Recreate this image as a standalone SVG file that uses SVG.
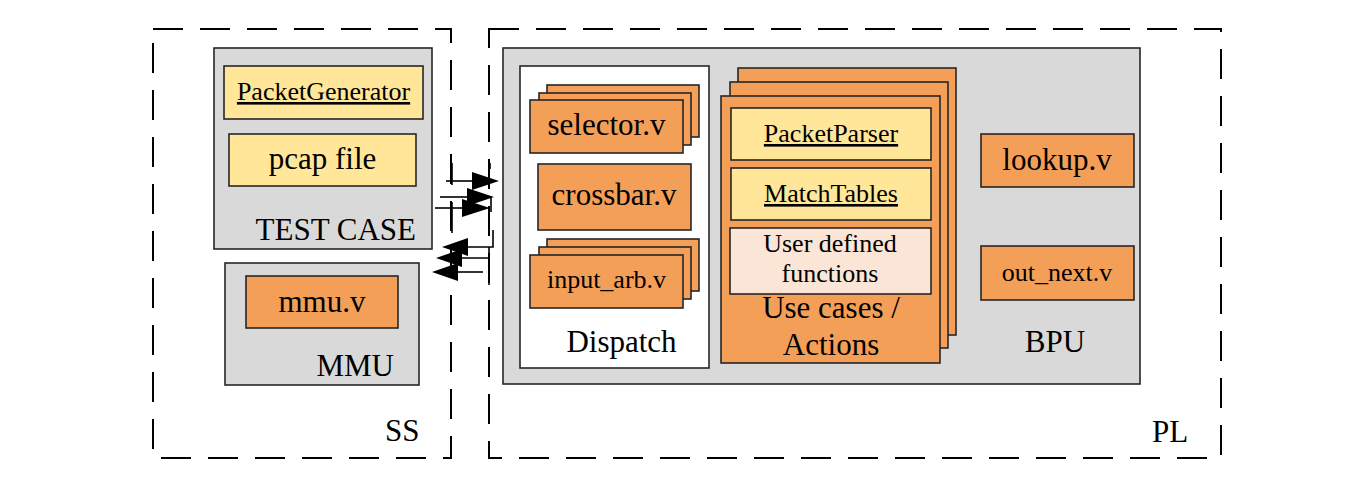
<svg xmlns="http://www.w3.org/2000/svg" width="1368" height="487" viewBox="0 0 1368 487">
<style>
text{font-family:"Liberation Serif","Times New Roman",serif;fill:#000}
.L{font-size:31px}
.S{font-size:26px}
.c{text-anchor:middle}
.e{text-anchor:end}
.u{text-decoration:underline}
.dash{fill:none;stroke:#000;stroke-width:2;stroke-dasharray:30 17}
.gray{fill:#d9d9d9;stroke:#262626;stroke-width:1.6}
.white{fill:#fff;stroke:#262626;stroke-width:1.6}
.org{fill:#f49f58;stroke:#262626;stroke-width:1.6}
.yel{fill:#ffe699;stroke:#262626;stroke-width:1.6}
.pale{fill:#fbe5d6;stroke:#262626;stroke-width:1.6}
.ln{fill:none;stroke:#000;stroke-width:1.6}
.hd{fill:#000}
</style>
<rect width="1368" height="487" fill="#fff"/>

<g id="SS">
  <rect class="dash" x="153" y="29" width="298" height="429"/>
  <text class="L" x="385" y="441">SS</text>
</g>
<g id="PL">
  <rect class="dash" x="489" y="29" width="732" height="429"/>
  <text class="L" x="1152" y="442">PL</text>
</g>

<g id="testcase">
  <rect class="gray" x="214" y="48" width="218" height="201"/>
  <text class="L e" x="416" y="240">TEST CASE</text>
</g>
<g id="packetgenerator">
  <rect class="yel" x="224" y="66" width="199" height="53"/>
  <text class="S c u" x="323.5" y="100">PacketGenerator</text>
</g>
<g id="pcapfile">
  <rect class="yel" x="229" y="134" width="187" height="52"/>
  <text class="L c" x="322.5" y="169">pcap file</text>
</g>

<g id="MMU">
  <rect class="gray" x="225" y="263" width="194" height="122"/>
  <text class="L e" x="394" y="376">MMU</text>
</g>
<g id="mmu">
  <rect class="org" x="246" y="276" width="152" height="52"/>
  <text class="L c" x="322" y="312">mmu.v</text>
</g>

<g id="BPU">
  <rect class="gray" x="503" y="48" width="637" height="336"/>
  <text class="L c" x="1055" y="352">BPU</text>
</g>

<g id="dispatch">
  <rect class="white" x="520" y="66" width="189" height="302"/>
  <text class="L c" x="621.5" y="352">Dispatch</text>
</g>
<g id="selector">
  <rect class="org" x="547" y="85" width="152" height="52"/>
  <rect class="org" x="539" y="93" width="152" height="52"/>
  <rect class="org" x="530" y="100" width="153" height="53"/>
  <text class="L c" x="606.5" y="135">selector.v</text>
</g>
<g id="crossbar">
  <rect class="org" x="538" y="164" width="153" height="66"/>
  <text class="L c" x="614" y="205">crossbar.v</text>
</g>
<g id="inputarb">
  <rect class="org" x="547" y="239" width="152" height="52"/>
  <rect class="org" x="539" y="247" width="152" height="52"/>
  <rect class="org" x="530" y="255" width="153" height="53"/>
  <text class="S c" x="606.5" y="288">input_arb.v</text>
</g>

<g id="usecases">
  <rect class="org" x="738" y="68" width="218" height="267"/>
  <rect class="org" x="730" y="82" width="218" height="266"/>
  <rect class="org" x="721" y="96" width="219" height="267"/>
  <text class="L c" x="831" y="318">Use cases /</text>
  <text class="L c" x="831" y="355">Actions</text>
</g>
<g id="packetparser">
  <rect class="yel" x="731" y="108" width="200" height="52"/>
  <text class="S c u" x="831" y="142">PacketParser</text>
</g>
<g id="matchtables">
  <rect class="yel" x="731" y="168" width="200" height="52"/>
  <text class="S c u" x="831" y="202">MatchTables</text>
</g>
<g id="userfunctions">
  <rect class="pale" x="730" y="228" width="201" height="66"/>
  <text class="S c" x="830" y="252">User defined</text>
  <text class="S c" x="830" y="282">functions</text>
</g>

<g id="lookup">
  <rect class="org" x="981" y="134" width="153" height="53"/>
  <text class="L c" x="1057" y="170">lookup.v</text>
</g>
<g id="outnext">
  <rect class="org" x="981" y="246" width="153" height="54"/>
  <text class="S c" x="1057" y="281">out_next.v</text>
</g>

<g id="connectors">
  <line class="ln" x1="446" y1="181" x2="475" y2="181"/>
  <polygon class="hd" points="472,172 499,181 472,190"/>
  <line class="ln" x1="440" y1="197" x2="470" y2="197"/>
  <polygon class="hd" points="467,188 494,197 467,206"/>
  <line class="ln" x1="435" y1="208" x2="465" y2="208"/>
  <polygon class="hd" points="462,199 490,208 462,217"/>
  <line class="ln" x1="452" y1="163" x2="452" y2="185"/>
  <line class="ln" x1="452" y1="202" x2="452" y2="233"/>
  <line class="ln" x1="490" y1="163" x2="490" y2="169"/>
  <line class="ln" x1="491" y1="197" x2="491" y2="212"/>

  <polyline class="ln" points="465,247 493,247 493,230"/>
  <polygon class="hd" points="468,238 442,247 468,256"/>
  <polyline class="ln" points="460,258 489,258 489,247"/>
  <polygon class="hd" points="462,249 436,258 462,267"/>
  <line class="ln" x1="455" y1="272" x2="483" y2="272"/>
  <polygon class="hd" points="458,263 432,272 458,281"/>
  <line class="ln" x1="489" y1="278" x2="489" y2="285"/>
</g>
</svg>
